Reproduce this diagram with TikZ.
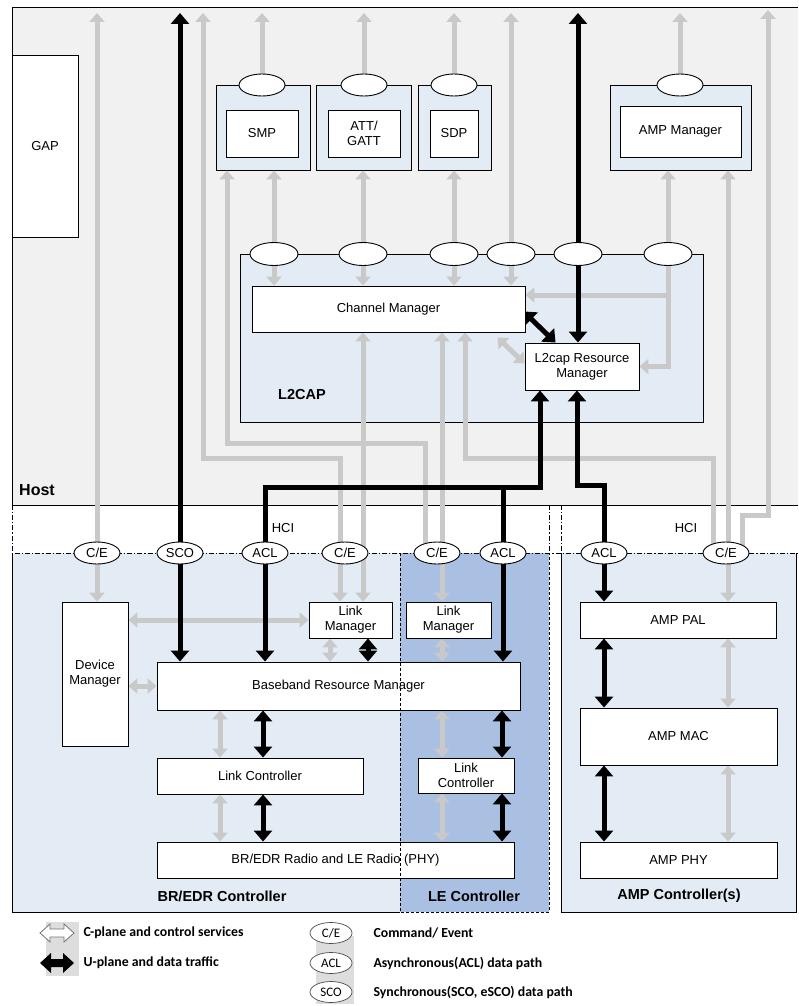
\documentclass[tikz,border=0pt]{standalone}
\usepackage{fontspec}
\setmainfont{Liberation Sans}
\newfontfamily\legendfont{Carlito}
\usetikzlibrary{arrows.meta,shapes.geometric,positioning}

\definecolor{hostgray}{HTML}{F1F1F1}
\definecolor{ctrlblue}{HTML}{E3EBF5}
\definecolor{leblue}{HTML}{A9C0E2}
\definecolor{cgray}{HTML}{C9C9C9}
\definecolor{legbg}{HTML}{DDDDDD}

\pgfdeclarelayer{bg}
\pgfdeclarelayer{links}
\pgfsetlayers{bg,links,main}

\tikzset{
  box/.style={draw, fill=white, line width=0.9pt, inner sep=0pt, align=center},
  cbox/.style={draw, fill=ctrlblue, line width=0.9pt, inner sep=0pt},
  oval/.style={ellipse, draw, fill=white, line width=0.9pt, minimum width=46pt, minimum height=22pt, inner sep=0pt},
  legoval/.style={ellipse, draw=black!70, fill=white, line width=0.7pt, minimum width=42pt, minimum height=21pt, inner sep=0pt, font=\legendfont\fontsize{13}{15}\selectfont},
  cplane/.style={draw=cgray, line width=5pt, >={Triangle[width=15pt,length=9pt]}},
  uplane/.style={draw=black, line width=5pt, >={Triangle[width=18pt,length=11pt]}},
  hci/.style={line width=0.9pt, dash pattern=on 5pt off 2pt on 1.2pt off 2pt},
  lbl/.style={font=\fontsize{14.5}{17}\selectfont\bfseries},
  legtxt/.style={font=\legendfont\fontsize{13.8}{16}\selectfont\bfseries, anchor=west}
}

\begin{document}
\begin{tikzpicture}[x=1pt, y=-1pt, font=\fontsize{13}{15}\selectfont]
\useasboundingbox (0,0) rectangle (798,1006);
\coordinate (roof) at (0,13);

% Areas
\begin{pgfonlayer}{bg}
\fill[white] (0,0) rectangle (798,1006);
\fill[hostgray] (12,7) rectangle (798,505);
\draw[line width=0.9pt] (798,7) -- (12,7) -- (12,505) -- (798,505);
\fill[ctrlblue] (12,553) rectangle (549,912);
\draw[line width=0.9pt] (12,553) -- (12,912) -- (400,912);
\fill[leblue] (400,553) rectangle (549,912);
\fill[ctrlblue] (561,553) rectangle (796,912);
\draw[line width=0.9pt] (561,553) -- (561,912) -- (796,912) -- (796,553);
\draw[hci] (12,505) -- (12,553) -- (798,553);
\draw[hci] (549,505) -- (549,553);
\draw[hci] (561,505) -- (561,553);
% Protocol containers
\node[cbox, minimum width=94pt, minimum height=85pt] (smpc) at (263,127.5) {};
\node[cbox, minimum width=95pt, minimum height=85pt] (attc) at (363.5,127.5) {};
\node[cbox, minimum width=73pt, minimum height=85pt] (sdpc) at (454.5,127.5) {};
\node[cbox, minimum width=141pt, minimum height=85pt] (ampmc) at (680.5,127.5) {};
\node[cbox, minimum width=463pt, minimum height=168pt] (l2cap) at (471.5,338) {};
\end{pgfonlayer}

% Host blocks
\node[box, minimum width=66pt, minimum height=182pt] (gap) at (45,146) {GAP};
\node[box, minimum width=72pt, minimum height=47pt] (smp) at (262,133.5) {SMP};
\node[box, minimum width=72pt, minimum height=47pt] (att) at (364,133.5) {ATT/\\GATT};
\node[box, minimum width=48pt, minimum height=47pt] (sdp) at (454,133.5) {SDP};
\node[box, minimum width=121pt, minimum height=51pt] (ampm) at (680.5,131.5) {AMP Manager};
\node[box, minimum width=273pt, minimum height=46pt] (chm) at (388.5,309) {Channel Manager};
\node[box, minimum width=114pt, minimum height=47pt] (rm) at (582,366.5) {L2cap Resource\\Manager};

% Service ovals
\node[oval] (osmp) at (262,85) {};
\node[oval] (oatt) at (364,85) {};
\node[oval] (osdp) at (454,85) {};
\node[oval] (oampm) at (680,85) {};
\node[oval, minimum width=48pt, minimum height=23pt] (oa) at (274,254) {};
\node[oval, minimum width=48pt, minimum height=23pt] (ob) at (363,254) {};
\node[oval, minimum width=48pt, minimum height=23pt] (oc) at (454,254) {};
\node[oval, minimum width=48pt, minimum height=23pt] (od) at (511,254) {};
\node[oval, minimum width=48pt, minimum height=23pt] (oe) at (578,254) {};
\node[oval, minimum width=48pt, minimum height=23pt] (of) at (668,254) {};

% HCI ovals
\node[oval] (ce1) at (97,553) {C/E};
\node[oval] (sco) at (180,553) {SCO};
\node[oval] (acl1) at (265,553) {ACL};
\node[oval] (ce2) at (345,553) {C/E};
\node[oval] (ce3) at (437,553) {C/E};
\node[oval] (acl2) at (503,553) {ACL};
\node[oval] (acl3) at (604,553) {ACL};
\node[oval] (ce4) at (726,553) {C/E};

% Controller blocks
\node[box, minimum width=66pt, minimum height=144pt] (dm) at (95,674) {Device\\Manager};
\node[box, minimum width=83pt, minimum height=36pt] (lm) at (350.5,620) {Link\\Manager};
\node[box, minimum width=85pt, minimum height=36pt] (lelm) at (448.5,620) {Link\\Manager};
\node[box, minimum width=363pt, minimum height=48pt] (brm) at (338.5,686) {Baseband Resource Manager};
\node[box, minimum width=206pt, minimum height=36pt] (lc) at (260,776) {Link Controller};
\node[box, minimum width=96pt, minimum height=35pt] (lelc) at (466,775.5) {Link\\Controller};
\node[box, minimum width=357pt, minimum height=36pt] (radio) at (335.5,860) {BR/EDR Radio and LE Radio (PHY)};
\node[box, minimum width=196pt, minimum height=36pt] (pal) at (678,620) {AMP PAL};
\node[box, minimum width=197pt, minimum height=57pt] (mac) at (678.5,736.5) {AMP MAC};
\node[box, minimum width=197pt, minimum height=36pt] (phy) at (678.5,860) {AMP PHY};
\draw[line width=0.9pt, dash pattern=on 3pt off 2pt] (400,553) -- (400,912) -- (549,912) -- (549,553);

% Labels
\node[font=\fontsize{16}{18}\selectfont\bfseries] (hostlbl) at (37,490) {Host};
\node[lbl] (l2lbl) at (302,395) {L2CAP};
\node (hci1) at (283,528) {HCI};
\node (hci2) at (686,528) {HCI};
\node[lbl] (bredrlbl) at (222,896) {BR/EDR Controller};
\node[lbl] (lelbl) at (474,896) {LE Controller};
\node[lbl] (amplbl) at (679,896) {AMP Controller(s)};

\begin{pgfonlayer}{links}
% C-plane
\draw[cplane,<->] (ce1 |- roof) -- (ce1 |- dm.north);
\draw[cplane,<->] (340,0 |- lm.north) -- (340,458) -| (203,0 |- roof);
\draw[cplane,<->] (363,0 |- chm.south) -- (363,0 |- lm.north);
\draw[cplane,->] (425,0 |- ce3) |- (227,443) -- (227,0 |- smpc.south);
\draw[cplane,<->] (442,0 |- chm.south) -- (442,0 |- lelm.north);
\draw[cplane,->] (713,0 |- ce4) |- (465,458) -- (465,0 |- chm.south);
\draw[cplane,<->] (728,0 |- ampmc.south) -- (728,0 |- pal.north);
\draw[cplane,->] (742,0 |- ce4) |- (768,515) -- (768,10);
\foreach \o in {osmp,oatt,osdp,oampm}
  \draw[cplane,->] (\o) -- (\o |- roof);
\draw[cplane,<->] (oa |- smpc.south) -- (oa |- chm.north);
\draw[cplane,<->] (ob |- attc.south) -- (ob |- chm.north);
\draw[cplane,<->] (oc |- sdpc.south) -- (oc |- chm.north);
\draw[cplane,<->] (od |- roof) -- (od |- chm.north);
\draw[cplane,<->] (of |- ampmc.south) -- (of |- rm.east) -- (rm.east);
\draw[cplane,->] (of |- 0,295) -- (chm.east |- 0,295);
\draw[cplane,<->] ([shift={(-28pt,-5pt)}]chm.south east) -- ([yshift=3pt]rm.west);
\draw[cplane,<->] (dm.east |- lm.west) -- (lm.west);
\draw[cplane,<->] (dm.east |- brm.west) -- (brm.west);
\draw[cplane,<->] (330,0 |- lm.south) -- (330,0 |- brm.north);
\draw[cplane,<->] (442,0 |- lelm.south) -- (442,0 |- brm.north);
\draw[cplane,<->] (220,0 |- brm.south) -- (220,0 |- lc.north);
\draw[cplane,<->] (220,0 |- lc.south) -- (220,0 |- radio.north);
\draw[cplane,<->] (442,0 |- brm.south) -- (442,0 |- lelc.north);
\draw[cplane,<->] (442,0 |- lelc.south) -- (442,0 |- radio.north);
\draw[cplane,<->] (728,0 |- pal.south) -- (728,0 |- mac.north);
\draw[cplane,<->] (728,0 |- mac.south) -- (728,0 |- phy.north);
% U-plane
\draw[uplane,<->] (sco |- roof) -- (sco |- brm.north);
\draw[uplane,<->] (oe |- roof) -- (oe |- rm.north);
\draw[uplane,<->] ([shift={(-2pt,21pt)}]chm.south east) -- ([xshift=31pt]rm.north west);
\draw[uplane,->] (acl1) |- (540,487) -- (540,0 |- rm.south);
\draw[uplane,->] (acl1) -- (acl1 |- brm.north);
\draw[uplane] (acl2) -- (acl2 |- 0,487);
\draw[uplane,->] (acl2) -- (acl2 |- brm.north);
\draw[uplane,->] (acl3) |- (577,485) -- (577,0 |- rm.south);
\draw[uplane,->] (acl3) -- (acl3 |- pal.north);
\draw[uplane,<->] (368,0 |- lm.south) -- (368,0 |- brm.north);
\draw[uplane,<->] (263,0 |- brm.south) -- (263,0 |- lc.north);
\draw[uplane,<->] (263,0 |- lc.south) -- (263,0 |- radio.north);
\draw[uplane,<->] (502,0 |- brm.south) -- (502,0 |- lelc.north);
\draw[uplane,<->] (502,0 |- lelc.south) -- (502,0 |- radio.north);
\draw[uplane,<->] (604,0 |- pal.south) -- (604,0 |- mac.north);
\draw[uplane,<->] (604,0 |- mac.south) -- (604,0 |- phy.north);
\end{pgfonlayer}

% Legend
\fill[legbg] (46,922) rectangle (79,976);
\fill[legbg] (316,936) rectangle (354,1004);
\draw[black!55, fill=white, line width=0.8pt] (40,933) -- (50,924) -- (50,929) -- (64,929) -- (64,924) -- (74,933) -- (64,942) -- (64,937) -- (50,937) -- (50,942) -- cycle;
\fill (40,963) -- (51,953) -- (51,959) -- (63,959) -- (63,953) -- (74,963) -- (63,973) -- (63,967) -- (51,967) -- (51,973) -- cycle;
\node[legtxt] (cplanetxt) at (80,933) {C-plane and control services};
\node[legtxt] (uplanetxt) at (80,963) {U-plane and data traffic};
\node[legoval] (lce) at (331,933) {C/E};
\node[legoval] (lacl) at (331,963) {ACL};
\node[legoval] (lsco) at (331,992) {SCO};
\node[legtxt] (cetxt) at (370,933) {Command/ Event};
\node[legtxt] (acltxt) at (370,963) {Asynchronous(ACL) data path};
\node[legtxt] (scotxt) at (370,992) {Synchronous(SCO, eSCO) data path};
\end{tikzpicture}
\end{document}
